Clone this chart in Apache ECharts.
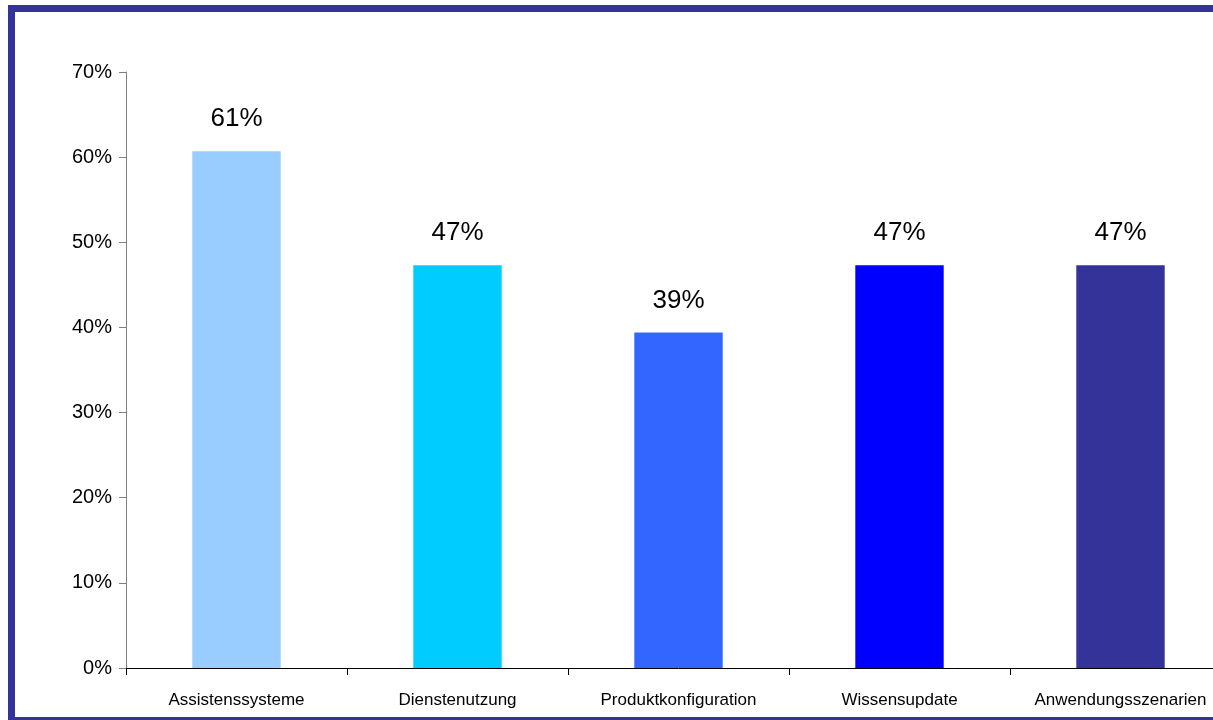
<!DOCTYPE html>
<html>
<head>
<meta charset="utf-8">
<script src="https://cdn.jsdelivr.net/npm/echarts@6/dist/echarts.min.js"></script>
<style>
  html, body { margin: 0; padding: 0; background: #fff; overflow: hidden; }
  /* Zeichenfläche breiter als das Fenster: rechter Teil wird abgeschnitten */
  #chart { width: 1240px; height: 720px; }
</style>
</head>
<body>
<div id="chart"></div>
<script>
// Daten
var categories = ['Assistenssysteme', 'Dienstenutzung', 'Produktkonfiguration', 'Wissensupdate', 'Anwendungsszenarien'];
var values = [60.7, 47.3, 39.4, 47.3, 47.3];
var barColors = ['#99CCFF', '#00CCFF', '#3366FF', '#0000FF', '#333399'];
var yTicks = [0, 10, 20, 30, 40, 50, 60, 70];

var myChart = echarts.init(document.getElementById('chart'));

var barData = [];
for (var i = 0; i < values.length; i++) {
	barData.push({
		value: values[i],
		itemStyle: { color: barColors[i] }
	});
}

var option = {
	animation: false,
	textStyle: { fontFamily: 'Liberation Sans, Arial, sans-serif' },
	// Rahmen um das Diagramm
	graphic: [{
		type: 'rect',
		shape: { x: 11.5, y: 8.5, width: 1300, height: 712 },
		style: { fill: 'none', stroke: '#333399', lineWidth: 7 },
		z: 100
	}],
	grid: {
		left: 126,
		right: 9,
		top: 72,
		bottom: 52
	},
	xAxis: {
		type: 'category',
		data: categories,
		axisLine: { lineStyle: { color: '#000', width: 1 } },
		axisTick: { show: true, interval: 0, length: 7, lineStyle: { color: '#000' } },
		axisLabel: { color: '#000', fontSize: 17, margin: 24, interval: 0 }
	},
	yAxis: {
		type: 'value',
		min: yTicks[0],
		max: yTicks[yTicks.length - 1],
		interval: 10,
		splitLine: { show: false },
		axisLine: { show: true, lineStyle: { color: '#808080', width: 1 } },
		axisTick: { show: true, length: 7, lineStyle: { color: '#808080' } },
		axisLabel: { color: '#000', fontSize: 20, margin: 14, formatter: '{value}%' }
	},
	series: [{
		type: 'bar',
		barWidth: '40%',
		data: barData,
		label: {
			show: true,
			position: 'top',
			distance: 19,
			color: '#000',
			fontSize: 26,
			formatter: function (p) {
				return Math.round(p.value) + '%';
			}
		}
	}]
};

myChart.setOption(option);
</script>
</body>
</html>
